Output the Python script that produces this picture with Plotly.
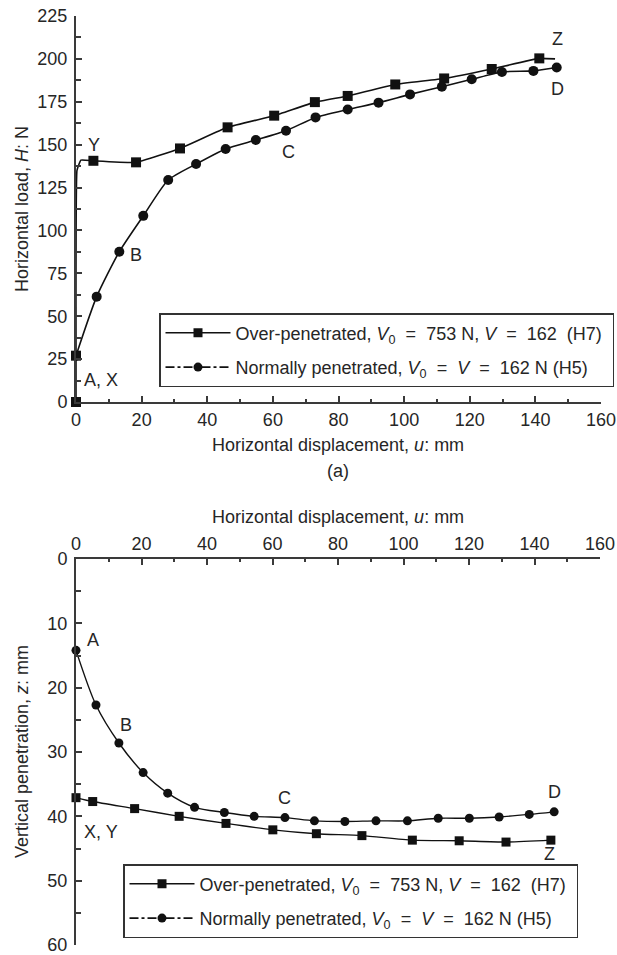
import plotly.graph_objects as go

# ---------------- data ----------------
# (a) horizontal load vs horizontal displacement
top_h7_u = [0, 0, 0.3, 1.5, 5.3, 18.3, 31.7, 46.2, 60.4, 72.8, 82.8, 97.3, 112.2, 126.7, 141.2, 146.0]
top_h7_H = [0, 27, 135, 141, 140.6, 139.7, 147.8, 160.1, 166.9, 174.8, 178.4, 185.1, 188.6, 194.1, 200.3, 200.0]
top_h7_marked = [0, 1, 4, 5, 6, 7, 8, 9, 10, 11, 12, 13, 14]

top_h5_u = [0, 6.3, 13.2, 20.5, 28.1, 36.6, 45.6, 54.8, 64.0, 73.0, 82.8, 92.2, 101.8, 111.5, 120.6, 129.8, 139.4, 146.5]
top_h5_H = [27, 61.4, 87.6, 108.5, 129.4, 138.7, 147.5, 152.7, 158.1, 165.9, 170.5, 174.5, 179.3, 183.8, 188.1, 192.4, 193.0, 195.0]

# (b) vertical penetration vs horizontal displacement
bot_h7_u = [0, 5.1, 17.9, 31.5, 45.8, 60.1, 73.4, 87.3, 102.7, 117.0, 131.3, 145.0]
bot_h7_z = [37.1, 37.7, 38.8, 40.0, 41.1, 42.1, 42.7, 43.0, 43.7, 43.8, 44.0, 43.7]

bot_h5_u = [0, 6.1, 13.1, 20.5, 28.0, 36.2, 45.3, 54.4, 63.8, 72.8, 82.1, 91.6, 101.2, 110.6, 120.1, 129.2, 138.4, 146.0]
bot_h5_z = [14.2, 22.7, 28.6, 33.2, 36.4, 38.6, 39.4, 40.0, 40.2, 40.7, 40.8, 40.7, 40.7, 40.3, 40.3, 40.1, 39.7, 39.3]

x_ticks = [0, 20, 40, 60, 80, 100, 120, 140, 160]
top_y_ticks = [0, 25, 50, 75, 100, 125, 150, 175, 200, 225]
bot_y_ticks = [0, 10, 20, 30, 40, 50, 60]

NB = "\u00a0"
EQ = f"{NB}{NB}={NB}{NB}"
name_h7 = f"Over-penetrated, <i>V</i><sub>0</sub>{EQ}753 N, <i>V</i>{EQ}162{NB}{NB}(H7){NB}"
name_h5 = f"Normally penetrated, <i>V</i><sub>0</sub>{EQ}<i>V</i>{EQ}162 N (H5)"

top_labels = [("Y", 5.5, 150), ("C", 64.8, 145.8), ("Z", 146.6, 211.5),
              ("D", 146.6, 182.5), ("B", 18.3, 85.5), ("A, X", 7.5, 12.8)]
bot_labels = [("A", 5.3, 12.6), ("B", 15.3, 25.8), ("C", 63.6, 37.2),
              ("X, Y", 7.5, 42.4), ("D", 146.0, 36.2), ("Z", 144.5, 45.9)]

# ---------------- figure ----------------
W, H = 617, 955
FONT = "Liberation Sans, Arial, sans-serif"
FS = 18
TXT = "#262626"
AX = "#3a3a3a"
LINE = "#111111"

def px_x(p):
    return p / W

def px_y(p):
    return 1 - p / H

fig = go.Figure()

# top chart traces
fig.add_trace(go.Scatter(x=top_h7_u, y=top_h7_H, mode="lines+markers", xaxis="x", yaxis="y",
                         line=dict(color=LINE, width=1.6, shape="spline", smoothing=0.3),
                         marker=dict(symbol="square", size=10, color=LINE),
                         selectedpoints=top_h7_marked, unselected=dict(marker=dict(opacity=0)),
                         showlegend=False, cliponaxis=False, hoverinfo="skip"))
fig.add_trace(go.Scatter(x=top_h5_u, y=top_h5_H, mode="lines+markers", xaxis="x", yaxis="y",
                         line=dict(color=LINE, width=1.6, shape="spline", smoothing=0.6),
                         marker=dict(symbol="circle", size=10, color=LINE),
                         showlegend=False, cliponaxis=False, hoverinfo="skip"))

# bottom chart traces
fig.add_trace(go.Scatter(x=bot_h7_u, y=bot_h7_z, mode="lines+markers", xaxis="x2", yaxis="y2",
                         line=dict(color=LINE, width=1.4, shape="spline", smoothing=0.6),
                         marker=dict(symbol="square", size=9, color=LINE),
                         showlegend=False, cliponaxis=False, hoverinfo="skip"))
fig.add_trace(go.Scatter(x=bot_h5_u, y=bot_h5_z, mode="lines+markers", xaxis="x2", yaxis="y2",
                         line=dict(color=LINE, width=1.4, shape="spline", smoothing=0.8),
                         marker=dict(symbol="circle", size=9, color=LINE),
                         showlegend=False, cliponaxis=False, hoverinfo="skip"))

# legend-only entries
for lg, xa, ya in (("legend", "x", "y"), ("legend2", "x2", "y2")):
    fig.add_trace(go.Scatter(x=[None], y=[None], mode="lines+markers", name=name_h7,
                             xaxis=xa, yaxis=ya, legend=lg, legendgroup=lg + "a",
                             line=dict(color=LINE, width=1.6),
                             marker=dict(symbol="square", size=9, color=LINE)))
    fig.add_trace(go.Scatter(x=[None], y=[None], mode="lines+markers", name=name_h5,
                             xaxis=xa, yaxis=ya, legend=lg, legendgroup=lg + "b",
                             line=dict(color=LINE, width=1.6, dash="dashdot"),
                             marker=dict(symbol="circle", size=9, color=LINE)))

tickfont = dict(family=FONT, size=FS, color=TXT)
common_axis = dict(showgrid=False, zeroline=False, showline=True, linecolor=AX, linewidth=2,
                   ticks="inside", tickcolor=AX, tickwidth=1.5, tickfont=tickfont,
                   automargin=False, ticklabeloverflow="allow")

xdom_top = [px_x(76), px_x(601)]
xdom_bot = [px_x(76), px_x(600)]

legend_common = dict(xanchor="left", yanchor="top",
                     bordercolor="#333", borderwidth=1.5, bgcolor="white",
                     font=dict(family=FONT, size=FS, color=TXT), itemwidth=65,
                     traceorder="grouped", tracegroupgap=8)

fig.update_layout(
    width=W, height=H,
    margin=dict(l=0, r=0, t=0, b=0, autoexpand=False),
    paper_bgcolor="white", plot_bgcolor="white",
    font=dict(family=FONT, size=FS, color=TXT),
    xaxis=dict(domain=xdom_top, range=[0, 160], anchor="y", tickvals=x_ticks, ticklen=6,
               ticklabelstandoff=0,
               minor=dict(dtick=10, ticks="inside", ticklen=3, tickcolor=AX, tickwidth=1.5),
               **common_axis),
    yaxis=dict(domain=[px_y(402), px_y(16)], range=[0, 225], anchor="x", tickvals=top_y_ticks, ticklen=6,
               ticklabelstandoff=3,
               minor=dict(dtick=12.5, ticks="inside", ticklen=5, tickcolor=AX, tickwidth=1.5),
               **common_axis),
    xaxis2=dict(domain=xdom_bot, range=[0, 160], anchor="y2", side="top", tickvals=x_ticks, ticklen=6,
                ticklabelstandoff=0,
                minor=dict(dtick=10, ticks="inside", ticklen=3, tickcolor=AX, tickwidth=1.5),
                **common_axis),
    yaxis2=dict(domain=[px_y(945), px_y(559)], range=[60, 0], anchor="x2", tickvals=bot_y_ticks, ticklen=6,
                ticklabelstandoff=3,
                minor=dict(dtick=5, ticks="inside", ticklen=5, tickcolor=AX, tickwidth=1.5),
                **common_axis),
    legend=dict(x=px_x(159), y=px_y(313), **legend_common),
    legend2=dict(x=px_x(123), y=px_y(864), **legend_common),
)

ann = []
# axis titles
ann.append(dict(text="Horizontal load, <i>H</i>: N", x=px_x(22), y=px_y(209), xref="paper", yref="paper",
                textangle=-90, showarrow=False, xanchor="center", yanchor="middle"))
ann.append(dict(text="Horizontal displacement, <i>u</i>: mm", x=px_x(338), y=px_y(445), xref="paper", yref="paper",
                showarrow=False, xanchor="center", yanchor="middle"))
ann.append(dict(text="(a)", x=px_x(338), y=px_y(471), xref="paper", yref="paper",
                showarrow=False, xanchor="center", yanchor="middle"))
ann.append(dict(text="Horizontal displacement, <i>u</i>: mm", x=px_x(338), y=px_y(517), xref="paper", yref="paper",
                showarrow=False, xanchor="center", yanchor="middle"))
ann.append(dict(text="Vertical penetration, <i>z</i>: mm", x=px_x(22), y=px_y(752), xref="paper", yref="paper",
                textangle=-90, showarrow=False, xanchor="center", yanchor="middle"))

for t, xv, yv in top_labels:
    ann.append(dict(text=t, x=xv, y=yv, xref="x", yref="y", showarrow=False,
                    xanchor="center", yanchor="middle"))
for t, xv, yv in bot_labels:
    ann.append(dict(text=t, x=xv, y=yv, xref="x2", yref="y2", showarrow=False,
                    xanchor="center", yanchor="middle"))

fig.update_layout(annotations=ann)

fig.write_html("out.html", config={"displayModeBar": False},
               post_script="document.body.style.margin='0';document.body.style.overflow='hidden';")
